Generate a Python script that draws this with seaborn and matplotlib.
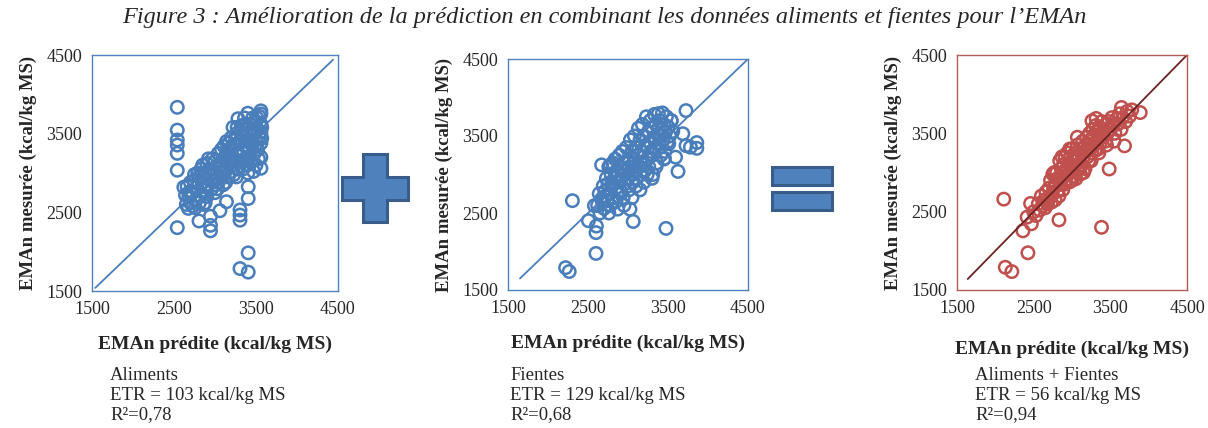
import matplotlib
matplotlib.use("Agg")
import matplotlib.pyplot as plt
from matplotlib.patches import Polygon, Rectangle
import numpy as np
import pandas as pd
import seaborn as sns

# ---- data (kcal/kg MS) ----
# Aliments : predite / mesuree
alim_x = [2540, 2540, 2540, 2540, 2540, 2540, 2540,
          3305, 3405, 3405, 3305, 3305, 3305, 3405, 2945, 2945, 2945, 2805, 3060, 3140, 2675, 3405,
          2660, 2680, 2700, 2720, 2740, 2760, 2780, 2800, 2820, 2830, 2850, 2860, 2870, 2880, 2900,
          2900, 2920, 2940, 2960, 2960, 2980, 3000, 3000, 3020, 3040, 3040, 3060, 3080, 3080, 3100,
          3100, 3120, 3140, 3140, 3160, 3160, 3180, 3200, 3200, 3220, 3220, 3240, 3240, 3260, 3260,
          3280, 3280, 3300, 3300, 3320, 3320, 3340, 3340, 3360, 3360, 3380, 3380, 3400, 3400, 3400,
          3420, 3420, 3440, 3440, 3460, 3460, 3480, 3480, 3500, 3500, 3500, 3520, 3520, 3540, 3540,
          3560, 3560, 3560, 3560, 3560, 3560, 3560, 3560, 3570, 3570,
          2640, 2650, 2700, 2760, 2790, 2850, 2880, 2920, 2990, 3010, 3050, 3110, 3130, 3170, 3190,
          3230, 3250, 3270, 3290, 3310, 3350, 3370, 3390, 3430, 3450, 3470, 3490, 3510, 3530,
          2620, 2690, 2730, 2750, 2810, 2840, 2890, 2930, 2970, 3030, 3090, 3150, 3210, 3330, 3410]
alim_y = [3835, 3545, 3420, 3355, 3250, 3035, 2305,
          1785, 1740, 1985, 2530, 2465, 2400, 2675, 2265, 2335, 2450, 2390, 2520, 2635, 2550, 2825,
          2830, 2700, 2620, 2760, 2900, 2650, 2820, 2950, 2700, 3050, 2880, 2600, 2780, 3000, 3120,
          2700, 2850, 2960, 3050, 2800, 2900, 3150, 2750, 3000, 3250, 2880, 3100, 2950, 3300, 3180,
          2850, 3050, 3400, 3250, 3120, 2950, 3300, 3450, 3020, 3200, 3580, 3350, 3100, 3500, 2950,
          3250, 3690, 3400, 3150, 3600, 3300, 3050, 3480, 3700, 3350, 3200, 3550, 3760, 3420, 3000,
          3300, 3620, 3150, 3480, 3700, 3380, 3250, 3550, 3650, 3420, 3100, 3550, 3300, 3720, 3450,
          3790, 3750, 3620, 3520, 3480, 3380, 3200, 3060, 3580, 3440,
          2720, 2600, 2880, 2560, 3000, 3100, 2620, 3180, 3020, 2850, 3060, 3340, 2880, 3380, 3180,
          2980, 3420, 3580, 3050, 3520, 3250, 3620, 3100, 3400, 3560, 3020, 3350, 3700, 3180,
          2820, 2760, 2580, 2980, 2620, 2980, 2820, 3050, 3180, 2800, 3000, 3220, 3320, 3150, 3180]

# Fientes
fien_x = [2220, 2265, 2600, 2600, 2605, 2505, 2305, 2580, 3065, 3025, 3475, 3595, 3625, 3685,
          3725, 3540, 3725, 3780, 3860, 3860, 3455, 2670,
          2620, 2640, 2650, 2670, 2690, 2700, 2710, 2730, 2740, 2750, 2760, 2770, 2780, 2790, 2800,
          2810, 2820, 2830, 2840, 2850, 2860, 2870, 2880, 2890, 2900, 2910, 2920, 2930, 2940, 2950,
          2960, 2970, 2980, 2990, 3000, 3010, 3020, 3030, 3040, 3050, 3060, 3070, 3080, 3090, 3100,
          3110, 3120, 3130, 3140, 3150, 3160, 3170, 3180, 3190, 3200, 3210, 3220, 3230, 3240, 3250,
          3260, 3270, 3280, 3290, 3300, 3310, 3320, 3330, 3340, 3350, 3360, 3370, 3380, 3390, 3400,
          3410, 3420, 3430, 3440, 3450, 3460, 3470, 3480, 3490, 3500, 3520, 3540, 3560,
          3300, 3200, 3100, 2950, 2850, 2780, 2680, 2760, 3050, 3150, 3350, 3450,
          2720, 2800, 2870, 2940, 3000, 3080, 3160, 3250, 3330, 3420, 3510, 3380, 3240]
fien_y = [1790, 1740, 1975, 2245, 2330, 2400, 2660, 2595, 2390, 2550, 2300, 3225, 3040, 3530,
          3830, 3700, 3375, 3355, 3415, 3340, 3210, 3125,
          2600, 2750, 2500, 2680, 2850, 2560, 2780, 2950, 2660, 2880, 3100, 2750, 2600, 3000, 2850,
          3150, 2700, 2950, 3200, 2820, 3050, 2550, 2900, 3250, 3100, 2780, 2980, 3300, 2700, 3150,
          2880, 3050, 3350, 2950, 3200, 2800, 3100, 3450, 3000, 3300, 2900, 3150, 3500, 3050, 3350,
          2950, 3250, 3600, 3100, 3450, 3000, 3300, 3650, 3150, 3500, 3050, 3380, 3750, 3200, 3550,
          3100, 3420, 3700, 3300, 3600, 3000, 3480, 3780, 3350, 3650, 3150, 3520, 3790, 3400, 3700,
          3250, 3580, 3800, 3450, 3650, 3300, 3550, 3750, 3420, 3620, 3500, 3700, 3560,
          2950, 2900, 2850, 2600, 2650, 3120, 2650, 2500, 2700, 2800, 3100, 3200,
          2720, 2900, 2780, 3050, 2950, 3200, 3150, 3350, 3450, 3500, 3400, 3600, 3000]

# Aliments + Fientes
comb_x = [2110, 2130, 2215, 2425, 3385, 2830, 2360, 2470, 2415, 2460, 3485, 3890, 3645, 3315,
          3260, 3685,
          2500, 2530, 2560, 2580, 2600, 2620, 2640, 2660, 2680, 2700, 2710, 2720, 2740, 2750, 2760,
          2780, 2790, 2800, 2810, 2820, 2840, 2850, 2860, 2870, 2880, 2890, 2900, 2910, 2920, 2930,
          2940, 2950, 2960, 2970, 2980, 2990, 3000, 3010, 3020, 3030, 3040, 3050, 3060, 3070, 3080,
          3090, 3100, 3110, 3120, 3130, 3140, 3150, 3160, 3170, 3180, 3190, 3200, 3210, 3220, 3230,
          3240, 3250, 3260, 3270, 3280, 3290, 3300, 3310, 3320, 3330, 3340, 3350, 3360, 3370, 3380,
          3390, 3400, 3420, 3440, 3450, 3460, 3480, 3500, 3520, 3540, 3560, 3580, 3600, 3620, 3640,
          3660, 3700, 3720, 3750, 3780,
          2650, 2730, 2830, 2900, 3000, 3100, 3150, 3250, 3350, 3450, 3550, 2770, 2870, 2970, 3070]
comb_y = [2660, 1790, 1735, 1975, 2300, 2395, 2255, 2345, 2430, 2605, 3045, 3765, 3830, 3690,
          3660, 3340,
          2500, 2450, 2600, 2520, 2700, 2580, 2650, 2750, 2600, 2800, 2680, 2900, 2720, 2980, 2800,
          2650, 2870, 3000, 2760, 2930, 3150, 2850, 3050, 2950, 2780, 3100, 3000, 3200, 2900, 3050,
          3250, 2980, 3120, 2880, 3200, 3050, 3300, 2950, 3150, 3080, 3250, 2920, 3200, 3350, 3050,
          3180, 3300, 2980, 3250, 3100, 3400, 3200, 3320, 3050, 3280, 3450, 3200, 3350, 3150, 3500,
          3300, 3420, 3250, 3550, 3350, 3480, 3280, 3600, 3400, 3520, 3300, 3450, 3580, 3380, 3500,
          3650, 3450, 3550, 3400, 3620, 3500, 3650, 3550, 3700, 3600, 3500, 3680, 3620, 3750, 3550,
          3700, 3650, 3780, 3720, 3800,
          2550, 2620, 2700, 2850, 2900, 3050, 3000, 3150, 3250, 3350, 3400, 3000, 3200, 3300, 3450]

# 1:1 lines (start / end)
line_alim = [1540, 4440]
line_fien = [1650, 4500]
line_comb = [1640, 4500]

ticks = [1500, 2500, 3500, 4500]
notes = [("Aliments", "ETR = 103 kcal/kg MS", "0,78"),
         ("Fientes", "ETR = 129 kcal/kg MS", "0,68"),
         ("Aliments + Fientes", "ETR = 56 kcal/kg MS", "0,94")]

blue = "#4a7ebb"
red = "#c0504d"
dark_red = "#6b2322"

sns.set_style("white")
plt.rcParams['font.family'] = ['Liberation Serif', 'DejaVu Serif']

fig = plt.figure(figsize=(12.08, 4.28), dpi=100)

panels = [
    ([92, 55, 338, 291], alim_x, alim_y, line_alim, blue, blue, "#4f81bd", 13),
    ([508, 59, 748, 290], fien_x, fien_y, line_fien, blue, blue, "#4f81bd", 13),
    ([957, 55, 1187, 290], comb_x, comb_y, line_comb, red, dark_red, "#b65a57", 17),
]

W, H = 1208.0, 428.0
for box, xs, ys, ln, mc, lc, sc, lp in panels:
    l, t, r, b = box
    ax = fig.add_axes([l / W, 1 - b / H, (r - l) / W, (b - t) / H])
    df = pd.DataFrame({"pred": xs, "mes": ys})
    sns.lineplot(x=ln, y=ln, ax=ax, color=lc, linewidth=1.3)
    sns.scatterplot(data=df, x="pred", y="mes", ax=ax, s=80, marker="o",
                    facecolor="none", edgecolor=mc, linewidth=1.8)
    ax.set_xlim(1500, 4500)
    ax.set_ylim(1500, 4500)
    ax.set_xticks(ticks)
    ax.set_yticks(ticks)
    ax.tick_params(axis="both", direction="out", length=4, width=0.8, color="#888888",
                   labelsize=13, pad=3)
    for sp in ax.spines.values():
        sp.set_color(sc)
        sp.set_linewidth(1.0)
    ax.set_xlabel("EMAn prédite (kcal/kg MS)", fontsize=14, fontweight="bold", labelpad=lp)
    ax.set_ylabel("EMAn mesurée (kcal/kg MS)", fontsize=13.5, fontweight="bold", labelpad=7)

# notes under each panel
for (a, b, r2), x0 in zip(notes, [110, 510, 975]):
    fig.text(x0 / W, 1 - 375 / H, a, fontsize=13.5, va="center", ha="left")
    fig.text(x0 / W, 1 - 395 / H, b, fontsize=13.5, va="center", ha="left")
    fig.text(x0 / W, 1 - 415 / H, "R\u00b2=" + r2, fontsize=13.5, va="center", ha="left")

fig.text(0.5, 1 - 17 / H,
         "Figure 3 : Amélioration de la prédiction en combinant les données aliments et fientes pour l\u2019EMAn",
         fontsize=17.5, style="italic", ha="center", va="center")

# plus / equal signs between panels
def fx(p):
    return [(x / W, 1 - y / H) for x, y in p]

plus = [(363, 154), (387, 154), (387, 177), (408, 177), (408, 200), (387, 200), (387, 222),
        (363, 222), (363, 200), (342, 200), (342, 177), (363, 177)]
fig.patches.append(Polygon(fx(plus), closed=True, facecolor="#4f81bd", edgecolor="#385d8a",
                           linewidth=2.2, transform=fig.transFigure, figure=fig))
for y0, y1 in [(167, 185), (192, 210)]:
    fig.patches.append(Rectangle((772 / W, 1 - y1 / H), 60 / W, (y1 - y0) / H,
                                 facecolor="#4f81bd", edgecolor="#385d8a", linewidth=2.2,
                                 transform=fig.transFigure, figure=fig))

fig.savefig("out.png", dpi=100)
